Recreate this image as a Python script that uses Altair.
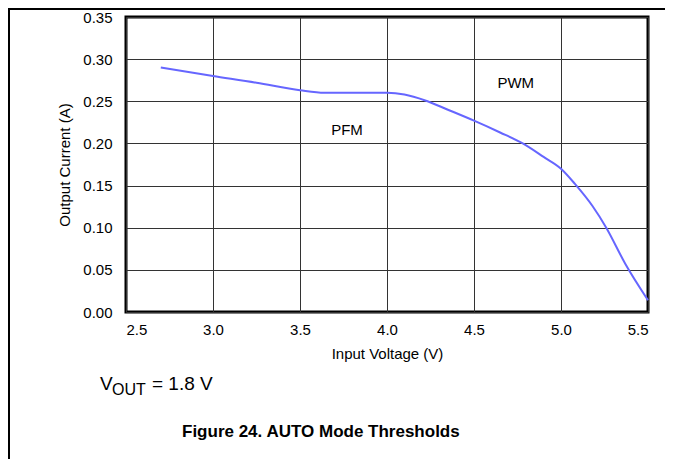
import altair as alt
import pandas as pd

# Curve data
vin = [2.70, 3.00, 3.25, 3.50, 3.64, 3.80, 4.00, 4.10, 4.22, 4.35, 4.50, 4.65, 4.78, 4.90, 5.00, 5.08, 5.18, 5.26, 5.37, 5.50]
iout = [0.290, 0.280, 0.272, 0.263, 0.260, 0.260, 0.260, 0.258, 0.251, 0.240, 0.227, 0.213, 0.200, 0.184, 0.170, 0.152, 0.126, 0.100, 0.057, 0.014]

region_names = ["PFM", "PWM"]
region_x = [3.77, 4.74]
region_y = [0.216, 0.272]

x_ticks = [2.5, 3.0, 3.5, 4.0, 4.5, 5.0, 5.5]
y_ticks = [0.0, 0.05, 0.10, 0.15, 0.20, 0.25, 0.30, 0.35]

FONT = "Liberation Sans"

curve = pd.DataFrame({"v": vin, "i": iout})
regions = pd.DataFrame({"name": region_names, "v": region_x, "i": region_y})

xs = alt.Scale(domain=[2.5, 5.5], nice=False, zero=False)
ys = alt.Scale(domain=[0, 0.35], nice=False)

x_axis = alt.Axis(values=x_ticks, format=".1f", title="Input Voltage (V)",
                  labelPadding=10, titlePadding=9)
y_axis = alt.Axis(values=y_ticks, format=".2f", title="Output Current (A)",
                  labelPadding=14, titlePadding=10)

line = alt.Chart(curve).mark_line(color="#6666ff", strokeWidth=2, interpolate="monotone").encode(
    x=alt.X("v:Q", scale=xs, axis=x_axis),
    y=alt.Y("i:Q", scale=ys, axis=y_axis),
)

labels = alt.Chart(regions).mark_text(font=FONT, fontSize=15, color="black").encode(
    x=alt.X("v:Q", scale=xs),
    y=alt.Y("i:Q", scale=ys),
    text="name:N",
)

one = pd.DataFrame({"k": [0]})

def txt(s, x, y, size, weight="normal"):
    return alt.Chart(one).mark_text(font=FONT, fontSize=size, fontWeight=weight,
                                    align="left", baseline="alphabetic", color="black").encode(
        x=alt.value(x), y=alt.value(y), text=alt.value(s))

vout_v = txt("V", -26, 373, 19)
vout_sub = txt("OUT", -14, 378, 16)
vout_rest = txt("= 1.8 V", 26, 373, 19)
fig_title = txt("Figure 24. AUTO Mode Thresholds", 56, 420, 17, "bold")

top_line = alt.Chart(one).mark_rule(color="black", strokeWidth=2).encode(
    x=alt.value(-118), x2=alt.value(545), y=alt.value(-8))
left_line = alt.Chart(one).mark_rule(color="black", strokeWidth=2).encode(
    x=alt.value(-117), y=alt.value(-9), y2=alt.value(450))

chart = alt.layer(line, labels, vout_v, vout_sub, vout_rest, fig_title, top_line, left_line).properties(
    width=522, height=295,
    autosize=alt.AutoSizeParams(type="none"),
    padding={"left": 118, "top": 9, "right": 17, "bottom": 147},
).configure_view(
    stroke="black", strokeWidth=3
).configure_axis(
    labelFont=FONT, titleFont=FONT, labelFontSize=15, titleFontSize=15,
    labelColor="black", titleColor="black", titleFontWeight="normal",
    grid=True, gridColor="#333333", gridWidth=1, gridOpacity=1,
    domain=False, ticks=False, tickSize=0,
)

chart.save("out.html", embed_options={"renderer": "svg", "actions": False})
